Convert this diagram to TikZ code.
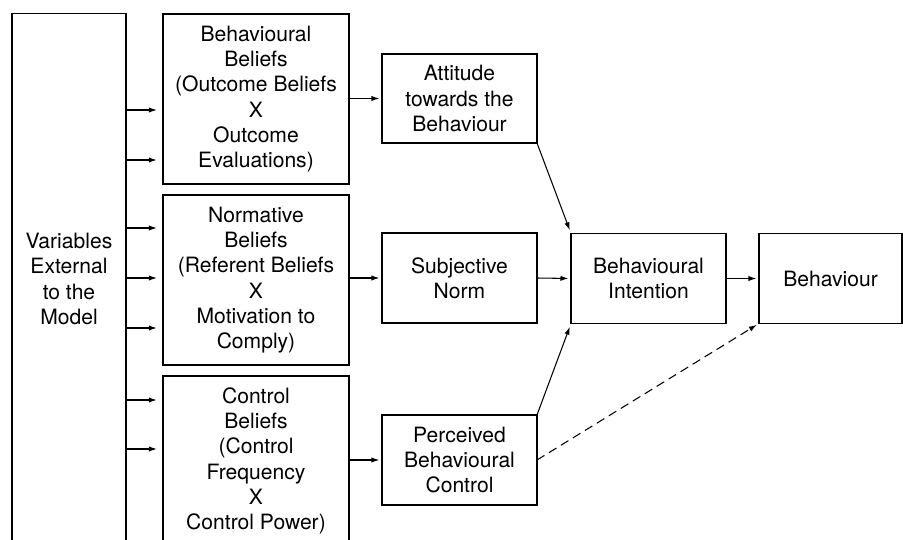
\documentclass[tikz,border=0pt]{standalone}
\usepackage{fontspec}
\setmainfont{TeX Gyre Heros}
\usetikzlibrary{arrows.meta,positioning}

\begin{document}
\begin{tikzpicture}[x=0.02cm,y=-0.02cm,
  >={Latex[length=4.5pt,width=3pt]},
  every node/.style={font=\fontsize{12}{14.4}\selectfont},
  box/.style={rectangle,draw,line width=0.6pt,align=center,inner sep=1pt,outer sep=0pt},
  belief/.style={box,minimum width=3.72cm,minimum height=3.4cm},
  construct/.style={box,minimum width=3.1cm,minimum height=1.8cm},
  link/.style={->,line width=0.6pt,shorten >=1.5pt}]
  \path[use as bounding box] (0,0) rectangle (903,540);
  \clip (0,0) rectangle (903,540);

  \node[box,minimum width=2.28cm,minimum height=10.64cm] (ext) at (69,279)
    {Variables\\External\\to the\\Model};

  % belief boxes
  \node[belief] (bb) at (256,99)
    {Behavioural\\Beliefs\\(Outcome Beliefs\\X\\Outcome\\Evaluations)};
  \node[belief] (nb) at (256,280)
    {Normative\\Beliefs\\(Referent Beliefs\\X\\Motivation to\\Comply)};
  \node[belief] (cb) at (256,461)
    {Control\\Beliefs\\(Control\\Frequency\\X\\Control Power)};

  % constructs
  \node[construct,minimum height=1.78cm] (att) at (459.5,98.5) {Attitude\\towards the\\Behaviour};
  \node[construct] (sn) at (459.5,278) {Subjective\\Norm};
  \node[construct] (pbc) at (459.5,460) {Perceived\\Behavioural\\Control};
  \node[construct] (bi) at (648.5,278.5) {Behavioural\\Intention};
  \node[construct,minimum width=2.86cm] (beh) at (830.5,278.5) {Behaviour};

  \foreach \y/\b in {110/bb,160/bb,228/nb,278/nb,328/nb,400/cb,449/cb}
    \draw[link,shorten >=3.5pt] (ext.east |- 0,\y) -- (\b.west |- 0,\y);

  \draw[link] (bb.east |- att.west) -- (att.west);
  \draw[link] (nb.east |- sn.west) -- (sn.west);
  \draw[link] (cb.east |- pbc.west) -- (pbc.west);
  \draw[link,shorten >=2pt] (att.south east) -- (bi.north west);
  \draw[link] (sn.east) -- (bi.west);
  \draw[link,shorten >=2pt] (pbc.north east) -- (bi.south west);
  \draw[link] (bi.east) -- (beh.west);
  \draw[link,dash pattern=on 5pt off 3pt] (pbc.east) -- (beh.south west);
\end{tikzpicture}
\end{document}
